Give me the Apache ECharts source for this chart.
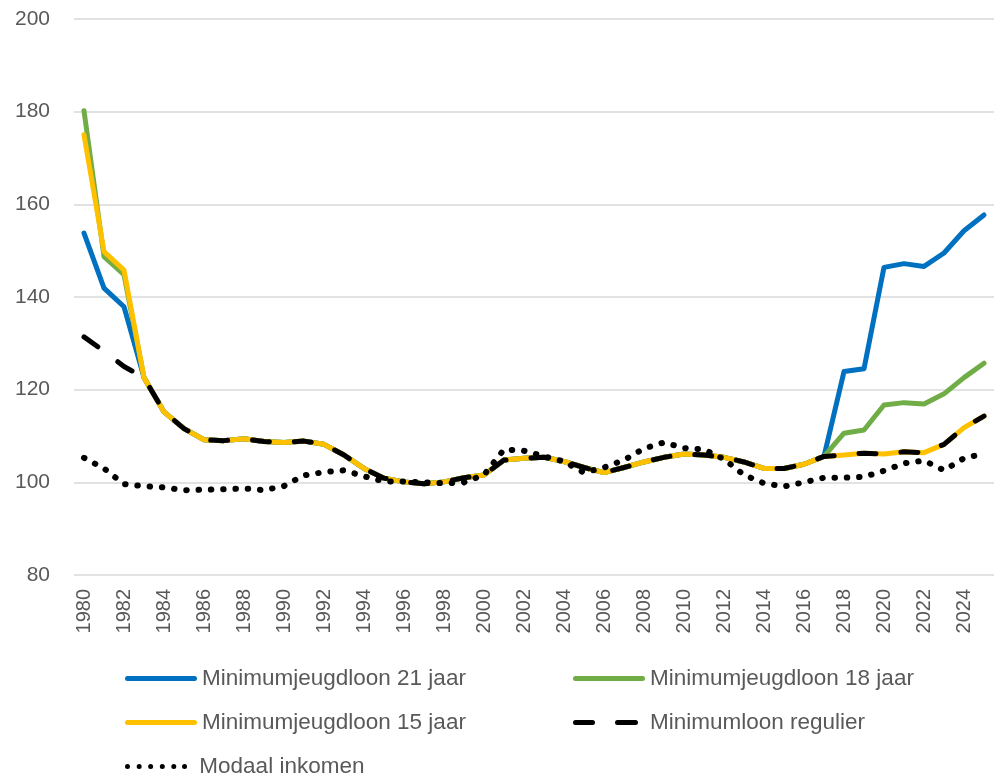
<!DOCTYPE html>
<html>
<head>
<meta charset="utf-8">
<script src="https://cdn.jsdelivr.net/npm/echarts@6/dist/echarts.min.js"></script>
<style>
  html, body { margin: 0; padding: 0; background: #fff; }
  #chart { width: 996px; height: 776px; }
</style>
</head>
<body>
<div id="chart"></div>
<script>
var years = [];
for (var y = 1980; y <= 2025; y++) years.push(String(y));

// waarden per jaar, 1980 t/m 2025
var jeugd21 = [153.8, 141.9, 137.9, 122.6, 115.2, 111.6, 109.2, 109.0, 109.4, 108.8,
  108.6, 108.9, 108.2, 105.9, 103.0, 100.9, 100.1, 99.7, 100.1, 101.0,
  101.6, 104.8, 105.2, 105.4, 104.5, 103.2, 102.1, 103.2, 104.4, 105.4,
  106.1, 105.9, 105.4, 104.4, 103.0, 103.0, 103.9, 105.6, 123.9, 124.5,
  146.4, 147.2, 146.6, 149.5, 154.3, 157.7];
var jeugd18 = [180.2, 148.7, 144.8, 122.6, 115.2, 111.6, 109.2, 109.0, 109.4, 108.8,
  108.6, 108.9, 108.2, 105.9, 103.0, 100.9, 100.1, 99.7, 100.1, 101.0,
  101.6, 104.8, 105.2, 105.4, 104.5, 103.2, 102.1, 103.2, 104.4, 105.4,
  106.1, 105.9, 105.4, 104.4, 103.0, 103.0, 103.9, 105.6, 110.6, 111.3,
  116.7, 117.2, 116.9, 119.1, 122.6, 125.7];
var jeugd15 = [175.0, 149.8, 145.8, 122.6, 115.2, 111.6, 109.2, 109.0, 109.4, 108.8,
  108.6, 108.9, 108.2, 105.9, 103.0, 100.9, 100.1, 99.7, 100.1, 101.0,
  101.6, 104.8, 105.2, 105.4, 104.5, 103.2, 102.1, 103.2, 104.4, 105.4,
  106.1, 105.9, 105.4, 104.4, 103.0, 103.0, 103.9, 105.6, 105.9, 106.3,
  106.1, 106.6, 106.4, 108.2, 111.8, 114.3];
var regulier = [131.4, 128.3, 125.0, 122.6, 115.2, 111.6, 109.2, 109.0, 109.4, 108.8,
  108.6, 108.9, 108.2, 105.9, 103.0, 100.9, 100.1, 99.7, 100.1, 101.0,
  101.6, 104.8, 105.2, 105.4, 104.5, 103.2, 102.1, 103.2, 104.4, 105.4,
  106.1, 105.9, 105.4, 104.4, 103.0, 103.0, 103.9, 105.6, 105.9, 106.3,
  106.1, 106.6, 106.4, 108.2, 111.8, 114.3];
var modaal = [105.3, 103.0, 99.6, 99.2, 98.9, 98.3, 98.4, 98.5, 98.7, 98.3,
  99.2, 101.5, 102.2, 102.6, 101.3, 100.2, 100.2, 100.0, 99.8, 100.0,
  101.6, 107.1, 106.8, 105.6, 104.5, 102.1, 103.2, 104.8, 107.3, 108.6,
  107.4, 107.1, 105.0, 101.6, 99.8, 99.1, 100.0, 101.0, 101.0, 101.2,
  102.5, 104.1, 104.7, 102.6, 105.2, 106.2];

var names = ['Minimumjeugdloon 21 jaar', 'Minimumjeugdloon 18 jaar',
  'Minimumjeugdloon 15 jaar', 'Minimumloon regulier', 'Modaal inkomen'];

var font = 'Liberation Sans';
var textColor = '#595959';

// legend-iconen (72 x 5), met een bijna onzichtbaar puntje rechts zodat de breedte klopt
var capLine = function (x0, x1) {
  return 'M' + (x0 + 2.5) + ',0H' + (x1 - 2.5) + 'A2.5,2.5,0,0,1,' + (x1 - 2.5) + ',5H' +
    (x0 + 2.5) + 'A2.5,2.5,0,0,1,' + (x0 + 2.5) + ',0Z';
};
var endMark = 'M71.99,2.5h0.01v0.01h-0.01Z';
var iconSolid = 'path://' + capLine(0, 72);
var iconDash = 'path://' + capLine(0, 22) + ' ' + capLine(42, 65) + ' ' + endMark;
var dotPath = '';
[2.7, 15.3, 27.7, 40.3, 52.7, 64.3].forEach(function (cx) {
  dotPath += 'M' + (cx - 2.7) + ',2.5A2.7,2.7,0,1,0,' + (cx + 2.7) + ',2.5A2.7,2.7,0,1,0,' + (cx - 2.7) + ',2.5Z ';
});
var iconDots = 'path://' + dotPath + endMark;

function legendItem(name, icon, left, top) {
  return {
    data: [{ name: name, icon: icon }],
    left: left, top: top, padding: 0,
    itemWidth: 72, itemHeight: 5,
    textStyle: { fontSize: 22.5, color: textColor, fontFamily: font, lineHeight: 22 }
  };
}

var chart = echarts.init(document.getElementById('chart'));

var option = {
  backgroundColor: '#fff',
  animation: false,
  grid: { left: 74, right: 2, top: 19, bottom: 201 },
  legend: [
    legendItem(names[0], iconSolid, 125, 667),
    legendItem(names[2], iconSolid, 125, 711),
    legendItem(names[4], iconDots, 125, 755),
    legendItem(names[1], iconSolid, 573, 667),
    legendItem(names[3], iconDash, 573, 711)
  ],
  xAxis: {
    type: 'category',
    data: years,
    boundaryGap: true,
    axisLine: { show: false },
    axisTick: { show: false },
    axisLabel: {
      interval: 1, rotate: 90, margin: 14,
      fontSize: 20, color: textColor, fontFamily: font
    }
  },
  yAxis: {
    type: 'value',
    min: 80, max: 200, interval: 20,
    axisLine: { show: false },
    axisTick: { show: false },
    axisLabel: { margin: 24, fontSize: 21, color: textColor, fontFamily: font },
    splitLine: { lineStyle: { color: '#D9D9D9', width: 1.5 } }
  },
  series: [
    { name: names[0], type: 'line', data: jeugd21, symbol: 'none',
      lineStyle: { color: '#0070C0', width: 5, cap: 'round', join: 'round' },
      itemStyle: { color: '#0070C0' } },
    { name: names[1], type: 'line', data: jeugd18, symbol: 'none',
      lineStyle: { color: '#70AD47', width: 5, cap: 'round', join: 'round' },
      itemStyle: { color: '#70AD47' } },
    { name: names[2], type: 'line', data: jeugd15, symbol: 'none',
      lineStyle: { color: '#FFC000', width: 5, cap: 'round', join: 'round' },
      itemStyle: { color: '#FFC000' } },
    { name: names[3], type: 'line', data: regulier, symbol: 'none',
      lineStyle: { color: '#000', width: 5, type: [17, 25], cap: 'round', join: 'round' },
      itemStyle: { color: '#000' } },
    { name: names[4], type: 'line', data: modaal, symbol: 'none',
      lineStyle: { color: '#000', width: 6, type: [0.5, 11.8], cap: 'round', join: 'round' },
      itemStyle: { color: '#000' } }
  ]
};

chart.setOption(option);
</script>
</body>
</html>
